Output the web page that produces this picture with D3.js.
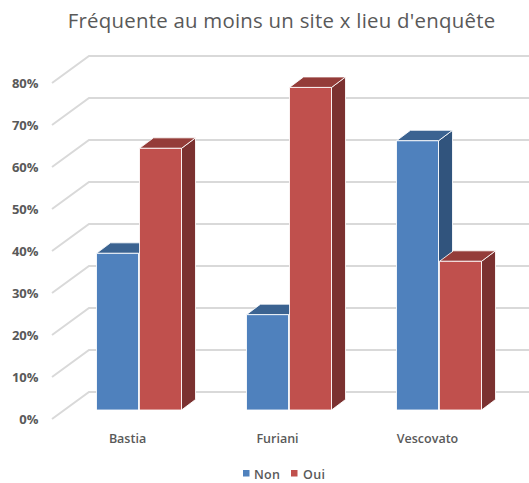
<!DOCTYPE html>
<html><head><meta charset="utf-8">
<script src="https://cdn.jsdelivr.net/npm/d3@7"></script>
<style>
html,body{margin:0;padding:0;background:#fff}
svg{display:block}
text{font-family:"Open Sans","Noto Sans",sans-serif}
</style></head><body>
<svg id="c" width="529" height="483"></svg>
<script>
const title = "Fréquente au moins un site x lieu d'enquête";
const categories = ["Bastia","Furiani","Vescovato"];
const seriesNames = ["Non","Oui"];
const nonValues = [37.3,22.7,64.1];
const ouiValues = [62.3,76.8,35.4];
const tickValues = [0,10,20,30,40,50,60,70,80];
const frontColors = ["#4f81bd","#c0504d"];
const topColors = ["#3b6391","#943c39"];
const sideColors = ["#31547d","#7b3130"];

const svg = d3.select("#c");
const y = d3.scaleLinear().domain([0,80]).range([419,83]);
const x = d3.scaleBand().domain(categories).range([52.5,502.5]);
const barW = 42, depthX = 14, depthY = 10.5, floorY = 9;
const backX = 37, backY = 27;

svg.append("text").attr("x",281.5).attr("y",28).attr("text-anchor","middle")
  .attr("font-size",20.4).attr("fill","#595959").attr("letter-spacing",0.25).text(title);

const grid = svg.append("g").attr("fill","none").attr("stroke","#d9d9d9");
tickValues.forEach(t=>{
  grid.append("path").attr("stroke-width",2)
    .attr("d",`M52,${y(t)}L${52+backX},${y(t)-backY}L529,${y(t)-backY}`);
});

const yAxis = d3.axisLeft(y).tickValues(tickValues).tickSize(0).tickPadding(0).tickFormat(d=>d+"%");
const ga = svg.append("g").attr("transform","translate(38.5,0)").call(yAxis);
ga.select(".domain").remove();
ga.selectAll("text").attr("font-size",13).attr("font-weight",700).attr("fill","#595959")
  .attr("dy","0.36em");

const barsG = svg.append("g").attr("stroke","#fff").attr("stroke-opacity",0.85).attr("stroke-width",1).attr("stroke-linejoin","round");
function bar(cat, s, v){
  const x0 = x(cat)+44+s*43, x1 = x0+barW;
  const b = y(0)-floorY, t = y(v)-floorY;
  const g = barsG.append("g");
  g.append("path").attr("fill",sideColors[s])
    .attr("d",`M${x1},${t}L${x1+depthX},${t-depthY}L${x1+depthX},${b-depthY}L${x1},${b}Z`);
  g.append("path").attr("fill",topColors[s])
    .attr("d",`M${x0},${t}L${x0+depthX},${t-depthY}L${x1+depthX},${t-depthY}L${x1},${t}Z`);
  g.append("rect").attr("fill",frontColors[s]).attr("x",x0).attr("y",t).attr("width",barW).attr("height",b-t);
}
categories.forEach((c,i)=>{
  bar(c,0,nonValues[i]);
  bar(c,1,ouiValues[i]);
});

const xAxis = d3.axisBottom(x).tickSize(0).tickPadding(0);
const gx = svg.append("g").attr("transform","translate(0,433.5)").call(xAxis);
gx.select(".domain").remove();
gx.selectAll("text").attr("font-size",12.5).attr("fill","#595959")
  .attr("font-weight",600).attr("dy","0.72em");

const legendX = [243,291], legendTx = [254,303];
seriesNames.forEach((n,i)=>{
  svg.append("rect").attr("x",legendX[i]).attr("y",470).attr("width",6.5).attr("height",6.5).attr("fill",frontColors[i]);
  svg.append("text").attr("x",legendTx[i]).attr("y",478.5).attr("font-size",12.5).attr("font-weight",600)
    .attr("fill","#595959").attr("letter-spacing",0.3).text(n);
});
</script>
</body></html>
